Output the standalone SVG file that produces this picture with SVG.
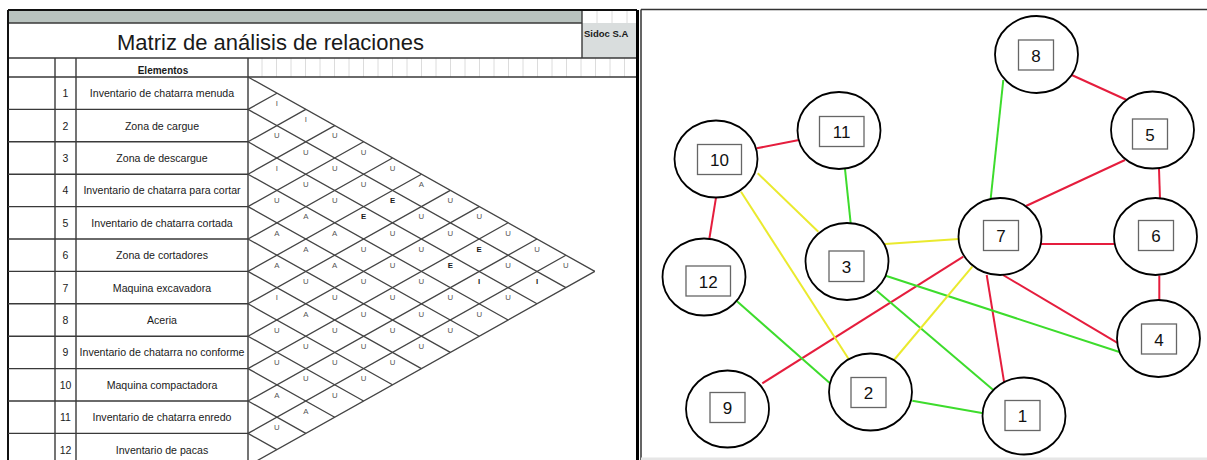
<svg xmlns="http://www.w3.org/2000/svg" width="1207" height="460" viewBox="0 0 1207 460">
<style>
.t{font-family:"Liberation Sans",Arial,sans-serif;fill:#1a1a1a}
.lbl{font-size:10.6px;text-anchor:middle}
.num{font-size:10.5px;text-anchor:middle}
.rl{font-family:"Liberation Sans",Arial,sans-serif;font-size:7.8px;fill:#555;text-anchor:middle}
.rd{fill:#1a1a1a;font-weight:bold}
.g{stroke:#3a3a3a;stroke-width:1.4;fill:none}
.dg{stroke:#444;stroke-width:1.3;fill:none}
.fg{stroke:#dcdcdc;stroke-width:1;fill:none}
.node ellipse{fill:#fff;stroke:#000;stroke-width:1.8}
.node rect{fill:#fff;stroke:#666;stroke-width:1.3}
.node text{font-family:"Liberation Sans",Arial,sans-serif;font-size:17px;fill:#111;text-anchor:middle}
.e{stroke-width:2;fill:none}
.red{stroke:#e51d3d}
.grn{stroke:#3ddc2c}
.yel{stroke:#eaea2e}
</style>
<rect x="0" y="0" width="1207" height="460" fill="#fff"/>

<!-- LEFT: relationship matrix table -->
<g id="matrix">
  <rect x="8" y="10" width="574" height="13" fill="#b9c3bf"/>
  <rect x="582" y="23" width="55" height="35" fill="#d9dddd"/>
  <path class="fg" d="M597 10V23M612 10V23M627 10V23"/>
  <!-- faint header grid -->
  <path class="fg" d="M262 58V77M276.5 58V77M291 58V77M305.5 58V77M320 58V77M334.5 58V77M349 58V77M363.5 58V77M378 58V77M392.5 58V77M407 58V77M421.5 58V77M436 58V77M450.5 58V77M465 58V77M479.5 58V77M494 58V77M508.5 58V77M523 58V77M537.5 58V77M552 58V77M566.5 58V77M581 58V77M595.5 58V77M610 58V77M624.5 58V77"/>
  <!-- frame -->
  <path class="g" d="M8 23H582M8 58H637M8 77H637M582 10V58"/>
  <path d="M8 10H637M8 10V460" stroke="#111" stroke-width="2" fill="none"/>
  <path d="M637.5 10V460" stroke="#000" stroke-width="3" fill="none"/>
  <path class="g" d="M55 58V460M76 58V460M248 58V460"/>
  <path class="g" d="M8 109.4H248M8 141.8H248M8 174.2H248M8 206.6H248M8 239H248M8 271.4H248M8 303.8H248M8 336.2H248M8 368.6H248M8 401H248M8 433.4H248"/>
  <!-- diamonds: down-right lines -->
  <path class="dg" d="M248 77L594.8 271.4M248 109.4L565.9 287.6M248 141.8L537 303.8M248 174.2L508.1 320M248 206.6L479.2 336.2M248 239L450.3 352.4M248 271.4L421.4 368.6M248 303.8L392.5 384.8M248 336.2L363.6 401M248 368.6L334.7 417.2M248 401L305.8 433.4M248 433.4L276.9 449.6"/>
  <!-- diamonds: up-right lines -->
  <path class="dg" d="M248 109.4L276.9 93.2M248 141.8L305.8 109.4M248 174.2L334.7 125.6M248 206.6L363.6 141.8M248 239L392.5 158M248 271.4L421.4 174.2M248 303.8L450.3 190.4M248 336.2L479.2 206.6M248 368.6L508.1 222.8M248 401L537 239M248 433.4L565.9 255.2M248 465.8L594.8 271.4"/>

  <text class="t" x="270.5" y="49.5" font-size="22" text-anchor="middle">Matriz de análisis de relaciones</text>
  <text class="t" x="584" y="37" font-size="9.5" font-weight="bold">Sidoc S.A</text>
  <text class="t" x="163" y="73.5" font-size="10" font-weight="bold" text-anchor="middle">Elementos</text>

  <text class="t num" x="65.5" y="97.2">1</text>
  <text class="t num" x="65.5" y="129.6">2</text>
  <text class="t num" x="65.5" y="162">3</text>
  <text class="t num" x="65.5" y="194.4">4</text>
  <text class="t num" x="65.5" y="226.8">5</text>
  <text class="t num" x="65.5" y="259.2">6</text>
  <text class="t num" x="65.5" y="291.6">7</text>
  <text class="t num" x="65.5" y="324">8</text>
  <text class="t num" x="65.5" y="356.4">9</text>
  <text class="t num" x="65.5" y="388.8">10</text>
  <text class="t num" x="65.5" y="421.2">11</text>
  <text class="t num" x="65.5" y="453.6">12</text>

  <text class="t lbl" x="162" y="97.2">Inventario de chatarra menuda</text>
  <text class="t lbl" x="162" y="129.6">Zona de cargue</text>
  <text class="t lbl" x="162" y="162">Zona de descargue</text>
  <text class="t lbl" x="162" y="194.4">Inventario de chatarra para cortar</text>
  <text class="t lbl" x="162" y="226.8">Inventario de chatarra cortada</text>
  <text class="t lbl" x="162" y="259.2">Zona de cortadores</text>
  <text class="t lbl" x="162" y="291.6">Maquina excavadora</text>
  <text class="t lbl" x="162" y="324">Aceria</text>
  <text class="t lbl" x="162" y="356.4">Inventario de chatarra no conforme</text>
  <text class="t lbl" x="162" y="388.8">Maquina compactadora</text>
  <text class="t lbl" x="162" y="421.2">Inventario de chatarra enredo</text>
  <text class="t lbl" x="162" y="453.6">Inventario de pacas</text>

  <!-- relationship letters d=1 -->
  <text class="rl" x="276.9" y="105.9">I</text>
  <text class="rl" x="276.9" y="138.3">U</text>
  <text class="rl" x="276.9" y="170.7">I</text>
  <text class="rl" x="276.9" y="203.1">U</text>
  <text class="rl" x="276.9" y="235.5">A</text>
  <text class="rl" x="276.9" y="267.9">A</text>
  <text class="rl" x="276.9" y="300.3">I</text>
  <text class="rl" x="276.9" y="332.7">U</text>
  <text class="rl" x="276.9" y="365.1">U</text>
  <text class="rl" x="276.9" y="397.5">A</text>
  <text class="rl" x="276.9" y="429.9">U</text>
  <!-- d=2 -->
  <text class="rl" x="305.8" y="122.1">I</text>
  <text class="rl" x="305.8" y="154.5">U</text>
  <text class="rl" x="305.8" y="186.9">U</text>
  <text class="rl" x="305.8" y="219.3">A</text>
  <text class="rl" x="305.8" y="251.7">A</text>
  <text class="rl" x="305.8" y="284.1">U</text>
  <text class="rl" x="305.8" y="316.5">A</text>
  <text class="rl" x="305.8" y="348.9">U</text>
  <text class="rl" x="305.8" y="381.3">U</text>
  <text class="rl" x="305.8" y="413.7">A</text>
  <!-- d=3 -->
  <text class="rl" x="334.7" y="138.3">U</text>
  <text class="rl" x="334.7" y="170.7">U</text>
  <text class="rl" x="334.7" y="203.1">U</text>
  <text class="rl" x="334.7" y="235.5">A</text>
  <text class="rl" x="334.7" y="267.9">A</text>
  <text class="rl" x="334.7" y="300.3">U</text>
  <text class="rl" x="334.7" y="332.7">U</text>
  <text class="rl" x="334.7" y="365.1">U</text>
  <text class="rl" x="334.7" y="397.5">U</text>
  <!-- d=4 -->
  <text class="rl" x="363.6" y="154.5">U</text>
  <text class="rl" x="363.6" y="186.9">U</text>
  <text class="rl rd" x="363.6" y="219.3">E</text>
  <text class="rl" x="363.6" y="251.7">U</text>
  <text class="rl" x="363.6" y="284.1">U</text>
  <text class="rl" x="363.6" y="316.5">U</text>
  <text class="rl" x="363.6" y="348.9">U</text>
  <text class="rl" x="363.6" y="381.3">U</text>
  <!-- d=5 -->
  <text class="rl" x="392.5" y="170.7">U</text>
  <text class="rl rd" x="392.5" y="203.1">E</text>
  <text class="rl" x="392.5" y="235.5">U</text>
  <text class="rl" x="392.5" y="267.9">U</text>
  <text class="rl" x="392.5" y="300.3">U</text>
  <text class="rl" x="392.5" y="332.7">U</text>
  <text class="rl" x="392.5" y="365.1">U</text>
  <!-- d=6 -->
  <text class="rl" x="421.4" y="186.9">A</text>
  <text class="rl" x="421.4" y="219.3">U</text>
  <text class="rl" x="421.4" y="251.7">U</text>
  <text class="rl" x="421.4" y="284.1">U</text>
  <text class="rl" x="421.4" y="316.5">U</text>
  <text class="rl" x="421.4" y="348.9">U</text>
  <!-- d=7 -->
  <text class="rl" x="450.3" y="203.1">U</text>
  <text class="rl" x="450.3" y="235.5">U</text>
  <text class="rl rd" x="450.3" y="267.9">E</text>
  <text class="rl" x="450.3" y="300.3">U</text>
  <text class="rl" x="450.3" y="332.7">U</text>
  <!-- d=8 -->
  <text class="rl" x="479.2" y="219.3">U</text>
  <text class="rl rd" x="479.2" y="251.7">E</text>
  <text class="rl rd" x="479.2" y="284.1">I</text>
  <text class="rl" x="479.2" y="316.5">U</text>
  <!-- d=9 -->
  <text class="rl" x="508.1" y="235.5">U</text>
  <text class="rl" x="508.1" y="267.9">U</text>
  <text class="rl" x="508.1" y="300.3">U</text>
  <!-- d=10 -->
  <text class="rl" x="537" y="251.7">U</text>
  <text class="rl rd" x="537" y="284.1">I</text>
  <!-- d=11 -->
  <text class="rl" x="565.9" y="267.9">U</text>
</g>

<!-- RIGHT: relationship graph -->
<g id="panel">
  <path d="M641 9.5H1207M641 9.5V460" stroke="#333" stroke-width="1.5" fill="none"/>
  <rect x="641" y="457.5" width="566" height="2.5" fill="#e6e6e6"/>
</g>

<g id="connectors">
  <path class="e red" d="M756.7 148.3L799 140"/>
  <path class="e red" d="M716 197.7L709.3 239"/>
  <path class="e red" d="M1071.7 75L1126.7 100"/>
  <path class="e red" d="M1125 160L1026 206"/>
  <path class="e red" d="M1159 169L1160 199"/>
  <path class="e red" d="M1041 244H1114"/>
  <path class="e red" d="M1159.3 275.5V300"/>
  <path class="e red" d="M1003 275L1118.3 343.3"/>
  <path class="e red" d="M986.7 275L1004.3 383.3"/>
  <path class="e red" d="M762.3 383.3L963.3 256.7"/>
  <path class="e grn" d="M845 169L850.7 223.3"/>
  <path class="e grn" d="M1003.3 80L990.7 198.5"/>
  <path class="e grn" d="M736.7 301L830 383.3"/>
  <path class="e grn" d="M876.7 290.7L993.3 390"/>
  <path class="e grn" d="M885.7 275.7L1121.7 352.7"/>
  <path class="e grn" d="M912.3 400.7L983.3 413.3"/>
  <path class="e yel" d="M757.7 173.3L818.3 231.7"/>
  <path class="e yel" d="M741 191.7L849.3 360"/>
  <path class="e yel" d="M885 244L959 239"/>
  <path class="e yel" d="M894 360L972.3 266.7"/>
</g>

<g id="node-8" class="node"><ellipse cx="1036.5" cy="54.5" rx="41.5" ry="38.5"/><rect x="1018.5" y="40" width="35" height="30"/><text x="1036" y="61.5">8</text></g>
<g id="node-5" class="node"><ellipse cx="1152.5" cy="130" rx="41.5" ry="38.5"/><rect x="1132.5" y="119" width="35" height="30"/><text x="1150" y="140.5">5</text></g>
<g id="node-11" class="node"><ellipse cx="839" cy="130.5" rx="41.5" ry="38.5"/><rect x="819.5" y="116.5" width="44.5" height="30"/><text x="841.7" y="138">11</text></g>
<g id="node-10" class="node"><ellipse cx="716" cy="159" rx="41.5" ry="38.5"/><rect x="697.5" y="144.5" width="44" height="30"/><text x="719.5" y="166">10</text></g>
<g id="node-12" class="node"><ellipse cx="704" cy="277" rx="41.5" ry="38.5"/><rect x="686" y="266" width="44.5" height="30"/><text x="708.2" y="287.5">12</text></g>
<g id="node-3" class="node"><ellipse cx="847" cy="261.5" rx="41.5" ry="38.5"/><rect x="829" y="251" width="35" height="30.5"/><text x="846.5" y="272.5">3</text></g>
<g id="node-9" class="node"><ellipse cx="727.5" cy="409" rx="41.5" ry="38.5"/><rect x="710" y="392.5" width="35" height="30"/><text x="727.5" y="414">9</text></g>
<g id="node-2" class="node"><ellipse cx="870.5" cy="392" rx="41.5" ry="38.5"/><rect x="851" y="377.5" width="35" height="30"/><text x="868.5" y="398.5">2</text></g>
<g id="node-7" class="node"><ellipse cx="1000" cy="236.5" rx="41.5" ry="38.5"/><rect x="983.5" y="220.5" width="35" height="30"/><text x="1001" y="242">7</text></g>
<g id="node-6" class="node"><ellipse cx="1155.5" cy="236.5" rx="41.5" ry="38.5"/><rect x="1138.5" y="220.5" width="35" height="30"/><text x="1156" y="242">6</text></g>
<g id="node-4" class="node"><ellipse cx="1158.5" cy="338.5" rx="41.5" ry="38.5"/><rect x="1141.5" y="324" width="35" height="30"/><text x="1159" y="345.5">4</text></g>
<g id="node-1" class="node"><ellipse cx="1024" cy="416" rx="41.5" ry="38.5"/><rect x="1005" y="400.5" width="35" height="30"/><text x="1022.5" y="422">1</text></g>
</svg>
